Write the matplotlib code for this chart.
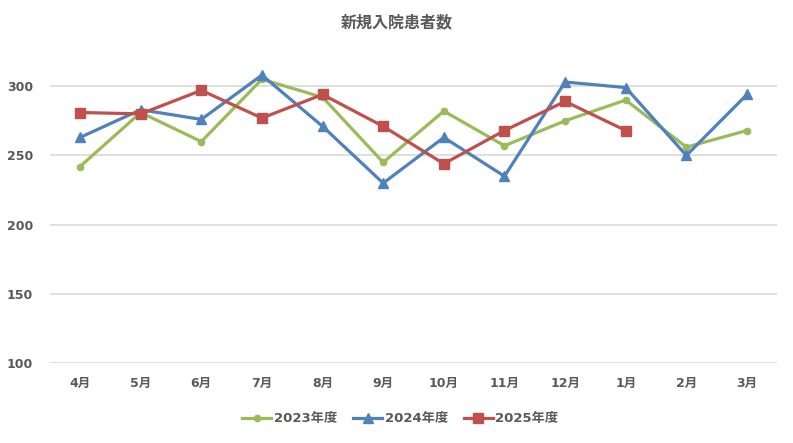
import matplotlib
matplotlib.use("Agg")
import matplotlib.pyplot as plt

plt.rcParams['font.family'] = ['DejaVu Sans', 'Noto Sans CJK JP']

months = ["4月", "5月", "6月", "7月", "8月", "9月", "10月", "11月", "12月", "1月", "2月", "3月"]
y2023 = [242, 281, 260, 305, 292, 245, 282, 257, 275, 290, 256, 268]
y2024 = [263, 283, 276, 308, 271, 230, 263, 235, 303, 299, 250, 294]
y2025 = [281, 280, 297, 277, 294, 271, 244, 268, 289, 268]
yticks = [100, 150, 200, 250, 300]
title = "新規入院患者数"

txt = "#595959"
fig = plt.figure(figsize=(7.93, 4.43), dpi=100)
ax = fig.add_axes([0.0627, 0.18, 0.9175, 0.688])

x = list(range(len(months)))
ax.plot(x, y2023, color="#9BBB59", lw=2.3, marker="o", ms=4.5, label="2023年度", zorder=3)
ax.plot(x, y2024, color="#4F81BD", lw=2.3, marker="^", ms=7.5, label="2024年度", zorder=4)
ax.plot(x[:len(y2025)], y2025, color="#C0504D", lw=2.3, marker="s", ms=7, label="2025年度", zorder=5)

ax.set_xlim(-0.5, len(months) - 0.5)
ax.set_ylim(100, 320)
ax.set_yticks(yticks)
ax.set_xticks(x)
ax.set_xticklabels(months)
ax.grid(axis="y", color="#D9D9D9", lw=1.2)
ax.set_axisbelow(True)
for s in ax.spines.values():
    s.set_visible(False)
ax.tick_params(length=0, colors=txt, labelsize=9)
ax.tick_params(axis="y", pad=12)
ax.tick_params(axis="x", pad=10)
for lab in ax.get_xticklabels() + ax.get_yticklabels():
    lab.set_fontweight("bold")

fig.text(0.5, 0.95, title, ha="center", va="center", fontsize=11.5, fontweight="bold", color=txt,
         family=['Noto Sans CJK JP', 'DejaVu Sans'])
leg = fig.legend(loc="center", bbox_to_anchor=(0.505, 0.055), ncol=3, frameon=False,
                 handlelength=2.2, columnspacing=1.2, handletextpad=0.2,
                 prop={"size": 9.5, "weight": "bold"})
for t in leg.get_texts():
    t.set_color(txt)

fig.savefig("out.png", dpi=100)
